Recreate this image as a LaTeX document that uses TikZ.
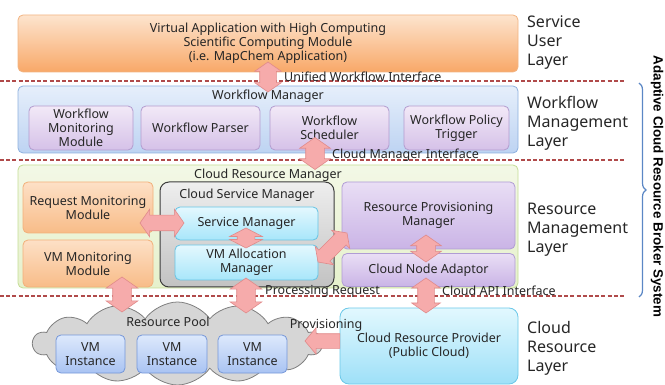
\documentclass[tikz,border=0pt]{standalone}
\usepackage{fontspec}
\setmainfont{Noto Sans}
\newfontfamily\sysfont{Liberation Sans}
\usetikzlibrary{shapes.arrows,shapes.symbols,decorations.pathreplacing}
\definecolor{txt}{HTML}{262626}
\definecolor{sepc}{HTML}{B04A4A}
\definecolor{brc}{HTML}{5B87C5}
\definecolor{arrf}{HTML}{F6ABAB}
\definecolor{arrb}{HTML}{E08A8A}
\definecolor{svT}{HTML}{FDE4CE}\definecolor{svB}{HTML}{F8A868}\definecolor{svD}{HTML}{F2B482}
\definecolor{wmT}{HTML}{E6EFFB}\definecolor{wmB}{HTML}{BDD3F2}\definecolor{wmD}{HTML}{8DB0DE}
\definecolor{puT}{HTML}{F2E9F7}\definecolor{puB}{HTML}{D5C1E8}\definecolor{puD}{HTML}{B39CCF}
\definecolor{crT}{HTML}{F3F8E6}\definecolor{crB}{HTML}{E6F1CC}\definecolor{crD}{HTML}{C4DC94}
\definecolor{orT}{HTML}{FDE0C6}\definecolor{orB}{HTML}{F8BC88}\definecolor{orD}{HTML}{F2B07A}
\definecolor{csT}{HTML}{EEEEEE}\definecolor{csB}{HTML}{C2C2C2}\definecolor{csD}{HTML}{3C3C3C}
\definecolor{cyT}{HTML}{E4F8FE}\definecolor{cyB}{HTML}{A8E6FA}\definecolor{cyD}{HTML}{66C4E4}
\definecolor{rpT}{HTML}{E9DEF5}\definecolor{rpB}{HTML}{CAB4E6}\definecolor{rpD}{HTML}{B09CD4}
\definecolor{vmT}{HTML}{DDE9FC}\definecolor{vmB}{HTML}{A9C3F2}\definecolor{vmD}{HTML}{7597D9}
\definecolor{cpT}{HTML}{E2F8FE}\definecolor{cpB}{HTML}{9EE0F8}\definecolor{cpD}{HTML}{6CC8E8}
\definecolor{clF}{HTML}{D6D6D6}\definecolor{clD}{HTML}{7F7F7F}
\newcommand\bxf{\fontsize{12.5}{14}\selectfont}
\newcommand\lyf{\fontsize{16}{19}\selectfont}
\tikzset{
  box/.style={rounded corners=5pt, line width=0.8pt, align=center, text=txt, font=\bxf, inner sep=0pt},
  svcbox/.style={box, draw=svD, top color=svT, bottom color=svB},
  wmbox/.style={box, draw=wmD, top color=wmT, bottom color=wmB},
  pubox/.style={box, draw=puD, top color=puT, bottom color=puB},
  crmbox/.style={box, draw=crD, top color=crT, bottom color=crB},
  rmbox/.style={box, draw=orD, top color=orT, bottom color=orB},
  csmbox/.style={box, draw=csD, line width=1pt, rounded corners=9pt, top color=csT, bottom color=csB},
  cyanbox/.style={box, draw=cyD, top color=cyT, bottom color=cyB},
  rpbox/.style={box, draw=rpD, top color=rpT, bottom color=rpB},
  vmbox/.style={box, draw=vmD, top color=vmT, bottom color=vmB},
  crpbox/.style={box, draw=cpD, rounded corners=9pt, top color=cpT, bottom color=cpB},
  plain/.style={text=txt, font=\bxf, inner sep=0pt, align=center},
  layer/.style={text=txt, font=\lyf, inner sep=0pt, align=left, anchor=west},
  sepline/.style={draw=sepc, line width=1.1pt, dash pattern=on 4pt off 2.2pt},
  dbl/.style={double arrow, draw=arrb, fill=arrf, line width=0.6pt, inner xsep=0pt, double arrow tip angle=110},
  sgl/.style={single arrow, draw=arrb, fill=arrf, line width=0.6pt, inner xsep=0pt, single arrow tip angle=100},
}
\begin{document}
\begin{tikzpicture}[x=1pt,y=-1pt]
\useasboundingbox (0,0) rectangle (665,385);
% separators
\coordinate (s1a) at (0,81);  \coordinate (s1b) at (625,81);
\coordinate (s2a) at (0,160); \coordinate (s2b) at (625,160);
\coordinate (s3a) at (0,296); \coordinate (s3b) at (625,296);
\draw[sepline] (s1a) -- (s1b);
\draw[sepline] (s2a) -- (s2b);
\draw[sepline] (s3a) -- (s3b);
% service user layer
\node[svcbox, minimum width=500pt, minimum height=57pt] (svc) at (268,43.5)
  {Virtual Application with High Computing\\Scientific Computing Module\\(i.e. MapChem Application)};
% workflow manager
\node[wmbox, minimum width=500pt, minimum height=67pt] (wm) at (268,119.5) {};
\node[plain] (wmt) at (268,96) {Workflow Manager};
\node[pubox, minimum width=104pt, minimum height=44pt] (wmm) at (81,128) {Workflow\\Monitoring\\Module};
\node[pubox, minimum width=119pt, minimum height=44pt] (wp) at (200.5,128) {Workflow Parser};
\node[pubox, minimum width=119pt, minimum height=44pt] (ws) at (329.5,128) {Workflow\\Scheduler};
\node[pubox, minimum width=105pt, minimum height=44pt] (wpt) at (456.5,128) {Workflow Policy\\Trigger};
% cloud resource manager
\node[crmbox, minimum width=500pt, minimum height=123pt] (crm) at (268,226.5) {};
\node[plain] (crmt) at (268,175) {Cloud Resource Manager};
\node[rmbox, minimum width=130pt, minimum height=51pt] (rmm) at (88,207.5) {Request Monitoring\\Module};
\node[rmbox, minimum width=130pt, minimum height=47pt] (vmm) at (88,263.5) {VM Monitoring\\Module};
\node[csmbox, minimum width=174pt, minimum height=105pt] (csm) at (247,234.5) {};
\node[plain] (csmt) at (247,195) {Cloud Service Manager};
\node[cyanbox, minimum width=143pt, minimum height=33pt] (sm) at (246.5,223.5) {Service Manager};
\node[cyanbox, minimum width=143pt, minimum height=35pt] (vma) at (246.5,262.5) {VM Allocation\\Manager};
\node[rpbox, minimum width=173pt, minimum height=67pt] (rpm) at (428.5,215.5) {Resource Provisioning\\Manager};
\node[rpbox, minimum width=173pt, minimum height=33pt] (cna) at (428.5,270) {Cloud Node Adaptor};
% cloud resource layer
\node[cloud, cloud puffs=14, cloud puff arc=110, cloud ignores aspect, draw=clD, fill=clF, line width=0.8pt, minimum width=289pt, minimum height=83pt] (pool) at (177.5,343.5) {};
\node[plain] (poolt) at (168,322) {Resource Pool};
\node[vmbox, minimum width=69pt, minimum height=38pt] (vm1) at (90.5,354) {VM\\Instance};
\node[vmbox, minimum width=70pt, minimum height=38pt] (vm2) at (172,354) {VM\\Instance};
\node[vmbox, minimum width=69pt, minimum height=38pt] (vm3) at (252.5,354) {VM\\Instance};
\node[crpbox, minimum width=178pt, minimum height=76pt] (crp) at (429,346) {Cloud Resource Provider\\(Public Cloud)};
% block arrows
\node[dbl, rotate=90, minimum height=30pt, inner ysep=8pt, double arrow head extend=5pt] (a1) at (268,77) {};
\node[dbl, rotate=90, minimum height=32pt, inner ysep=9pt, double arrow head extend=6pt] (a2) at (315,153.5) {};
\node[dbl, minimum height=44pt, inner ysep=7.5pt, double arrow head extend=6pt] (a3) at (162,223) {};
\node[dbl, rotate=90, minimum height=20pt, inner ysep=8.5pt, double arrow head extend=7.5pt, double arrow tip angle=125] (a4) at (246,238) {};
\node[dbl, rotate=45, minimum height=41pt, inner ysep=7.5pt, double arrow head extend=5pt] (a5) at (332.5,247.5) {};
\node[dbl, rotate=90, minimum height=27pt, inner ysep=9pt, double arrow head extend=6pt] (a6) at (426,248.5) {};
\node[dbl, rotate=90, minimum height=35pt, inner ysep=9pt, double arrow head extend=6.5pt] (a7) at (122,294.5) {};
\node[dbl, rotate=90, minimum height=35pt, inner ysep=9pt, double arrow head extend=6.5pt] (a8) at (246,295.5) {};
\node[dbl, rotate=90, minimum height=35pt, inner ysep=8pt, double arrow head extend=6pt] (a9) at (426,295.5) {};
\node[sgl, rotate=180, minimum height=35pt, inner ysep=7pt, single arrow head extend=6pt] (a10) at (325.5,341) {};
% interface labels
\node[plain, anchor=west] (l1) at (284,77) {Unified Workflow Interface};
\node[plain, anchor=west] (l2) at (332,155) {Cloud Manager Interface};
\node[plain, anchor=west] (l3) at (265,291) {Processing Request};
\node[plain, anchor=west] (l4) at (442,291) {Cloud API Interface};
\node[plain] (l5) at (326,325) {Provisioning};
% layer labels
\node[layer] (ly1) at (527,43) {Service\\User\\Layer};
\node[layer] (ly2) at (527,123.5) {Workflow\\Management\\Layer};
\node[layer] (ly3) at (527,230) {Resource\\Management\\Layer};
\node[layer] (ly4) at (527,348.5) {Cloud\\Resource\\Layer};
% brace and system title
\coordinate (bt) at (639,83);
\coordinate (bb) at (639,297);
\draw[brc, line width=1.2pt, decorate, decoration={brace, amplitude=7pt}] (bt) -- (bb);
\node[rotate=-90, text=black, font=\sysfont\bfseries\fontsize{13.4}{16}\selectfont, inner sep=0pt] (sys) at (657,186.5) {Adaptive Cloud Resource Broker System};
\end{tikzpicture}
\end{document}
